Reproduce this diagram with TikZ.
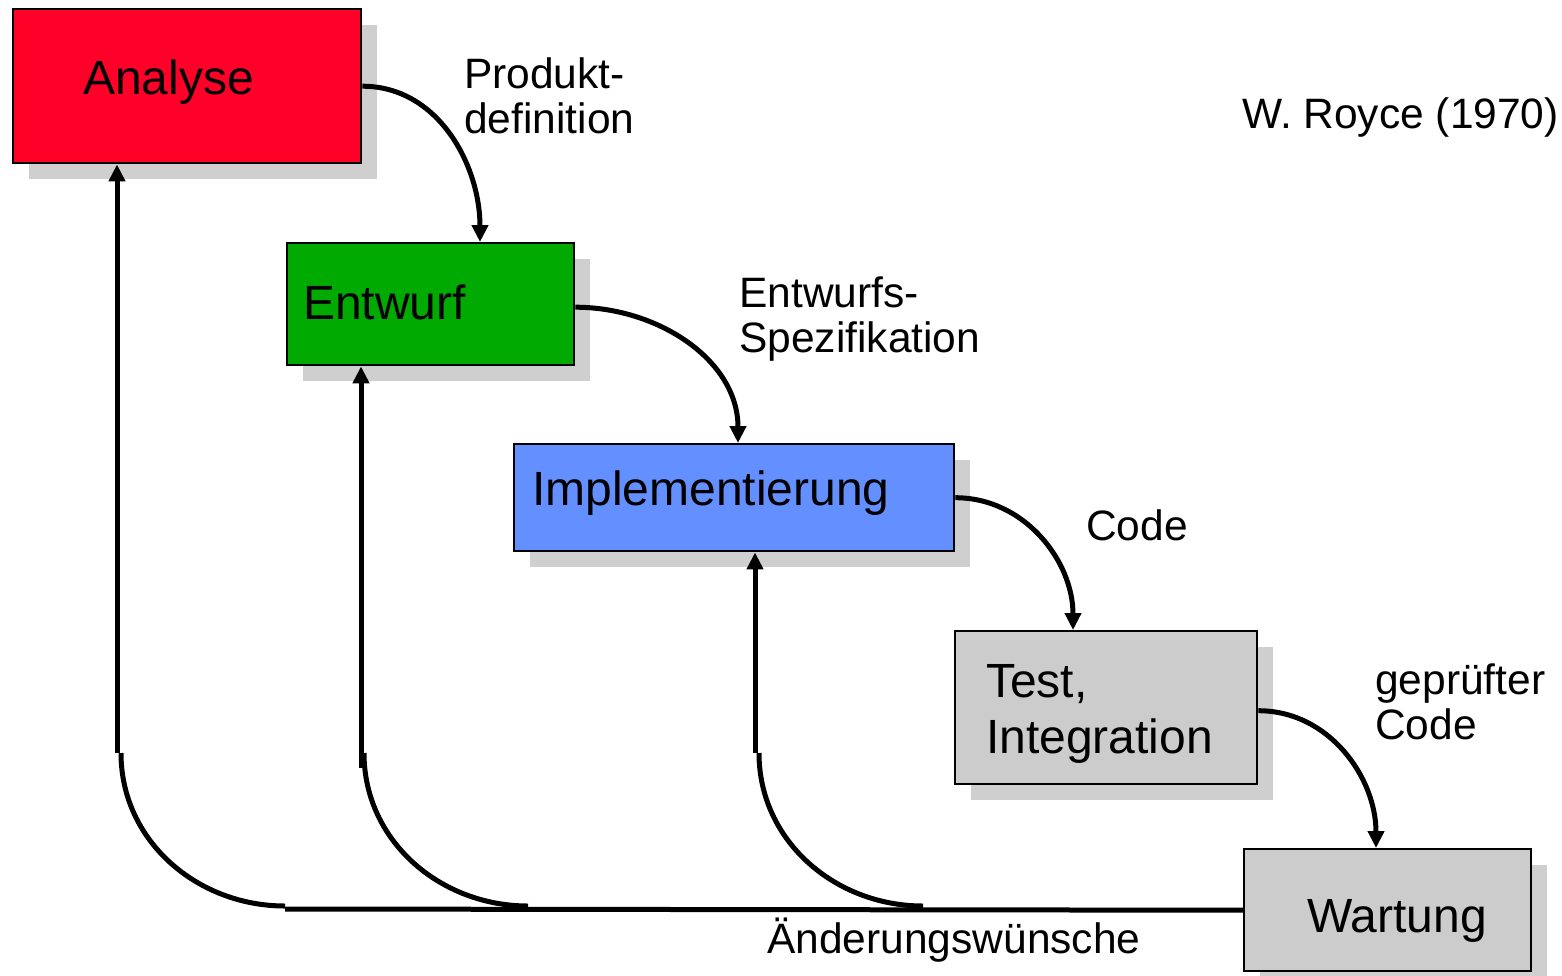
\documentclass[tikz,border=0pt]{standalone}
\usepackage{fontspec}
\setmainfont{Liberation Sans}
\usetikzlibrary{arrows.meta,shadows}
\definecolor{cred}{RGB}{255,0,41}
\definecolor{cgreen}{RGB}{0,170,0}
\definecolor{cblue}{RGB}{99,143,255}
\definecolor{cgray}{RGB}{204,204,204}
\definecolor{cshadow}{RGB}{207,207,207}
\begin{document}
\begin{tikzpicture}[x=1pt,y=-1pt,
  box/.style={draw=black, line width=2.4pt, anchor=north west, inner sep=0pt,
    drop shadow={shadow xshift=16pt,shadow yshift=-16pt,fill=cshadow,opacity=1}},
  boxtext/.style={anchor=base west, inner sep=0pt, font=\fontsize{48}{56}\selectfont},
  lbl/.style={anchor=base west, inner sep=0pt, font=\fontsize{42.5}{45}\selectfont},
  flow/.style={line width=5pt, -{Triangle[length=17pt,width=16pt]}},
  back/.style={line width=5pt}]
\useasboundingbox (0,0) rectangle (1562,975);

% boxes
\node[box, fill=cred,   minimum width=348pt, minimum height=154pt] (analyse) at (12,8) {};
\node[box, fill=cgreen, minimum width=287pt, minimum height=122pt] (entwurf) at (286,242) {};
\node[box, fill=cblue,  minimum width=440pt, minimum height=107pt] (impl)    at (513,443) {};
\node[box, fill=cgray,  minimum width=302pt, minimum height=153pt] (test)    at (954,630) {};
\node[box, fill=cgray,  minimum width=287pt, minimum height=122pt] (wartung) at (1243,848) {};

% box texts
\node[boxtext] (analyse-t) at (83,94) {Analyse};
\node[boxtext] (entwurf-t) at (303,319) {Entwurf};
\node[boxtext] (impl-t)    at (532,505) {Implementierung};
\node[boxtext] (test-t)    at (986,697) {\begin{tabular}[t]{@{}l@{}}Test,\\Integration\end{tabular}};
\node[boxtext] (wartung-t) at (1307,932) {Wartung};

% labels
\node[lbl] (royce) at (1242,128) {W. Royce (1970)};
\node[lbl] (l1) at (464,88)  {\begin{tabular}[t]{@{}l@{}}Produkt-\\definition\end{tabular}};
\node[lbl] (l2) at (739,307) {\begin{tabular}[t]{@{}l@{}}Entwurfs-\\Spezifikation\end{tabular}};
\node[lbl] (l3) at (1086,540) {Code};
\node[lbl] (l4) at (1375,694) {\begin{tabular}[t]{@{}l@{}}geprüfter\\Code\end{tabular}};
\node[lbl] (l5) at (767,953) {Änderungswünsche};

% forward flow
\draw[flow] (analyse.east) to[out=0,in=90] ([xshift=194pt]entwurf.north west);
\draw[flow] ([yshift=-3pt]entwurf.east) to[out=0,in=90] ([xshift=225pt]impl.north west);
\draw[flow] (impl.east) to[out=0,in=90] ([xshift=119pt]test.north west);
\draw[flow] ([yshift=-3pt]test.east) to[out=0,in=90] ([xshift=133pt]wartung.north west);

% feedback
\coordinate (v1) at (117,753); \coordinate (c1) at (121,753); \coordinate (j1) at (285,906);
\coordinate (v2) at (361,768); \coordinate (c2) at (364,753); \coordinate (j2) at (528,906);
\coordinate (v3) at (755,753); \coordinate (c3) at (759,753); \coordinate (j3) at (923,906);
\coordinate (h0) at (285,909);
\draw[flow] (v1) -- (v1 |- analyse.south);
\draw[flow] (v2) -- (v2 |- entwurf.south);
\draw[flow] (v3) -- (v3 |- impl.south);
\draw[back] (c1) to[out=-90,in=180] (j1);
\draw[back] (c2) to[out=-90,in=180] (j2);
\draw[back] (c3) to[out=-90,in=180] (j3);
\draw[back] (h0) -- (wartung.west);
\end{tikzpicture}
\end{document}
